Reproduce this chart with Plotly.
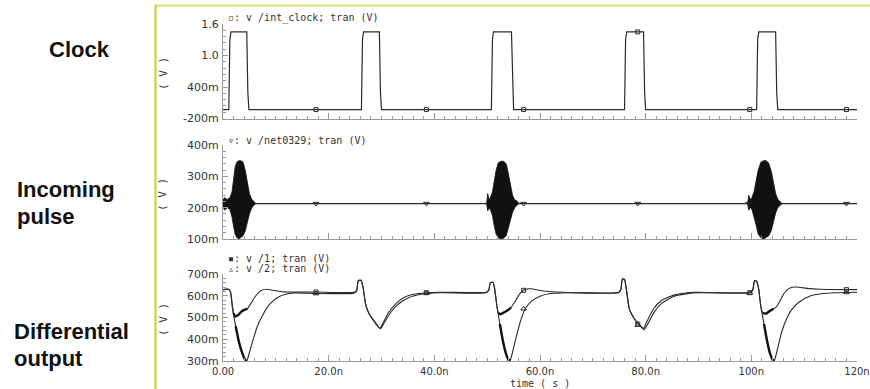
import plotly.graph_objects as go

W, H = 870, 389

# ---------------- data ----------------
# Clock (V) vs time (ns)
clock_t = [0, 1.1, 1.3, 1.5, 4.5, 4.7, 4.9,
           26.2, 26.4, 26.6, 29.6, 29.8, 30.0,
           50.8, 51.0, 51.2, 54.6, 54.8, 55.0,
           76.0, 76.2, 76.4, 79.6, 79.8, 80.0,
           101.0, 101.2, 101.4, 104.6, 104.8, 105.0, 120]
clock_v = [-0.03, -0.03, 1.30, 1.45, 1.45, 0.30, -0.03,
           -0.03, 1.30, 1.45, 1.45, 0.30, -0.03,
           -0.03, 1.30, 1.45, 1.45, 0.30, -0.03,
           -0.03, 1.30, 1.45, 1.45, 0.30, -0.03,
           -0.03, 1.30, 1.45, 1.45, 0.30, -0.03, -0.03]
clock_mk_t = [17.6, 38.5, 56.9, 78.5, 99.7, 118.0]
clock_mk_v = [-0.03, -0.03, -0.03, 1.45, -0.03, -0.03]

# Incoming pulse: baseline and burst envelopes (V)
pulse_t = [0, 120]
pulse_v = [0.213, 0.213]
burst1_t = [0.0, 0.3, 0.8, 1.3, 1.7, 2.0, 2.3, 2.6, 3.0, 3.4, 3.8, 4.2, 4.6, 5.0, 5.4, 5.8, 6.2]
burst1_hi = [0.225, 0.232, 0.226, 0.232, 0.25, 0.29, 0.33, 0.345, 0.35, 0.35, 0.345, 0.32, 0.28, 0.245, 0.228, 0.22, 0.213]
burst1_lo = [0.203, 0.192, 0.200, 0.195, 0.17, 0.14, 0.115, 0.105, 0.10, 0.105, 0.11, 0.125, 0.15, 0.18, 0.198, 0.207, 0.213]
burst2_t = [49.9, 50.1, 50.3, 50.6, 51.0, 51.3, 51.7, 52.1, 52.6, 53.1, 53.6, 54.0, 54.4, 54.8, 55.2, 55.6, 56.0]
burst2_hi = [0.213, 0.245, 0.228, 0.232, 0.25, 0.28, 0.32, 0.343, 0.348, 0.348, 0.34, 0.31, 0.27, 0.24, 0.225, 0.222, 0.213]
burst2_lo = [0.213, 0.19, 0.198, 0.195, 0.175, 0.145, 0.115, 0.104, 0.10, 0.102, 0.11, 0.13, 0.16, 0.185, 0.2, 0.205, 0.213]
burst3_t = [99.3, 99.5, 99.8, 100.1, 100.5, 100.9, 101.3, 101.8, 102.3, 102.8, 103.3, 103.8, 104.2, 104.6, 105.0, 105.4, 105.8]
burst3_hi = [0.213, 0.24, 0.226, 0.232, 0.25, 0.28, 0.32, 0.345, 0.35, 0.35, 0.342, 0.315, 0.28, 0.245, 0.227, 0.22, 0.213]
burst3_lo = [0.213, 0.192, 0.2, 0.195, 0.175, 0.145, 0.115, 0.104, 0.10, 0.104, 0.11, 0.128, 0.155, 0.183, 0.2, 0.206, 0.213]
pulse_mk_t = [17.6, 38.5, 56.9, 78.5, 99.5, 118.0]
pulse_mk_v = [0.213, 0.213, 0.213, 0.213, 0.213, 0.213]

# Differential output (V)
outA_t = [0, 1.0, 1.4, 1.7, 2.0, 2.3, 2.8, 3.4, 4.0, 4.6, 5.3, 6.2, 7.2, 8.3, 9.5, 11.5, 17.6, 24.8,
          25.3, 25.6, 26.1, 26.5, 27.0, 27.6, 28.4, 29.2, 29.7, 30.4, 31.4, 32.8, 34.5, 37, 41, 49.8,
          50.3, 50.6, 51.1, 51.4, 51.8, 52.1, 52.6, 53.3, 54.0, 54.5, 55.3, 56.2, 57.2, 58.3, 60, 63, 74.9,
          75.3, 75.6, 76.0, 76.4, 76.9, 77.6, 78.5, 79.2, 79.6, 80.3, 81.5, 83, 85.3, 89, 99.8,
          100.3, 100.6, 101.0, 101.4, 101.8, 102.2, 102.8, 103.5, 104.2, 104.7, 105.5, 106.3, 107.2, 108.5, 110.5, 113, 120]
outA_v = [0.628, 0.63, 0.62, 0.57, 0.52, 0.505, 0.51, 0.525, 0.535, 0.54, 0.565, 0.60, 0.624, 0.63, 0.625, 0.618, 0.617, 0.616,
          0.625, 0.67, 0.672, 0.64, 0.56, 0.52, 0.49, 0.465, 0.45, 0.48, 0.525, 0.565, 0.595, 0.61, 0.616, 0.616,
          0.625, 0.66, 0.662, 0.635, 0.56, 0.52, 0.515, 0.525, 0.535, 0.545, 0.575, 0.61, 0.63, 0.632, 0.624, 0.617, 0.616,
          0.63, 0.678, 0.676, 0.62, 0.54, 0.505, 0.475, 0.458, 0.45, 0.485, 0.54, 0.578, 0.603, 0.616, 0.616,
          0.63, 0.67, 0.668, 0.63, 0.55, 0.52, 0.518, 0.53, 0.54, 0.548, 0.58, 0.615, 0.635, 0.64, 0.634, 0.63, 0.628]
outB_t = [0, 1.0, 1.4, 1.8, 2.4, 3.0, 3.6, 4.2, 4.5, 4.9, 5.6, 6.5, 7.6, 8.8, 10.2, 11.8, 13.5, 17.6, 24.8,
          25.3, 25.6, 26.1, 26.5, 27.0, 27.6, 28.4, 29.2, 29.8, 30.5, 31.5, 33, 35, 37.5, 41, 49.8,
          50.3, 50.6, 51.1, 51.4, 51.8, 52.4, 53.0, 53.6, 54.1, 54.4, 54.9, 55.6, 56.4, 57.2, 58.4, 60, 62, 65, 74.9,
          75.3, 75.6, 76.0, 76.4, 76.9, 77.6, 78.5, 79.2, 79.7, 80.4, 81.5, 83, 85.3, 89, 99.8,
          100.3, 100.6, 101.0, 101.4, 101.8, 102.4, 103.0, 103.6, 104.1, 104.4, 104.9, 105.7, 106.6, 107.6, 109, 111, 113.5, 116, 120]
outB_v = [0.628, 0.63, 0.62, 0.54, 0.46, 0.39, 0.34, 0.305, 0.30, 0.33, 0.39, 0.46, 0.515, 0.56, 0.59, 0.607, 0.613, 0.611, 0.612,
          0.622, 0.668, 0.67, 0.64, 0.56, 0.52, 0.49, 0.462, 0.448, 0.475, 0.515, 0.558, 0.59, 0.607, 0.614, 0.614,
          0.625, 0.66, 0.662, 0.635, 0.56, 0.47, 0.39, 0.33, 0.302, 0.305, 0.35, 0.42, 0.49, 0.54, 0.575, 0.598, 0.61, 0.614, 0.614,
          0.628, 0.676, 0.674, 0.62, 0.54, 0.503, 0.472, 0.455, 0.444, 0.47, 0.52, 0.565, 0.597, 0.613, 0.614,
          0.628, 0.668, 0.666, 0.63, 0.55, 0.47, 0.39, 0.33, 0.302, 0.305, 0.35, 0.43, 0.49, 0.535, 0.57, 0.598, 0.61, 0.614, 0.616]
noise_windows = [(2.0, 4.6), (52.0, 54.6), (102.0, 104.6)]
outA_mk_t = [17.6, 38.5, 56.9, 78.5, 99.7, 118.0]
outA_mk_v = [0.617, 0.614, 0.625, 0.47, 0.614, 0.628]
outB_mk_t = [17.6, 38.5, 56.9, 78.5, 99.7, 118.0]
outB_mk_v = [0.61, 0.612, 0.54, 0.465, 0.612, 0.615]

x_tickvals = [0, 20, 40, 60, 80, 100, 120]
x_ticktext = ["0.00", "20.0n", "40.0n", "60.0n", "80.0n", "100n", "120n"]
y1_tickvals = [-0.2, 0.4, 1.0, 1.6]
y1_ticktext = ["-200m", "400m", "1.0", "1.6"]
y2_tickvals = [0.1, 0.2, 0.3, 0.4]
y2_ticktext = ["100m", "200m", "300m", "400m"]
y3_tickvals = [0.3, 0.4, 0.5, 0.6, 0.7]
y3_ticktext = ["300m", "400m", "500m", "600m", "700m"]

# ---------------- figure ----------------
LINE = "#2a2a2a"
AX = "#9a9a9a"
TXT = "#333333"

def px_x(p):
    return p / W

def px_y(p):
    return 1 - p / H

fig = go.Figure()

# clock
fig.add_trace(go.Scatter(x=clock_t, y=clock_v, mode="lines", line=dict(color=LINE, width=1.2),
                         xaxis="x2", yaxis="y", hoverinfo="skip"))
fig.add_trace(go.Scatter(x=clock_mk_t, y=clock_mk_v, mode="markers",
                         marker=dict(symbol="square-open", size=4, color=LINE, line=dict(width=1)),
                         xaxis="x2", yaxis="y", hoverinfo="skip"))

# incoming pulse
fig.add_trace(go.Scatter(x=pulse_t, y=pulse_v, mode="lines", line=dict(color=LINE, width=1.2),
                         xaxis="x3", yaxis="y2", hoverinfo="skip"))
for bt, bh, bl in [(burst1_t, burst1_hi, burst1_lo), (burst2_t, burst2_hi, burst2_lo), (burst3_t, burst3_hi, burst3_lo)]:
    fig.add_trace(go.Scatter(x=bt + bt[::-1], y=bh + bl[::-1], mode="lines", fill="toself",
                             fillcolor="#111111", line=dict(color="#111111", width=0.8),
                             xaxis="x3", yaxis="y2", hoverinfo="skip"))
fig.add_trace(go.Scatter(x=pulse_mk_t, y=pulse_mk_v, mode="markers",
                         marker=dict(symbol="triangle-down-open", size=5, color=LINE, line=dict(width=1)),
                         xaxis="x3", yaxis="y2", hoverinfo="skip"))

# differential output
for tt, vv in [(outA_t, outA_v), (outB_t, outB_v)]:
    fig.add_trace(go.Scatter(x=tt, y=vv, mode="lines", line=dict(color=LINE, width=1.1, shape="spline", smoothing=0.5),
                             xaxis="x", yaxis="y3", hoverinfo="skip"))
    for (a, b) in noise_windows:
        sx = [t for t in tt if a <= t <= b]
        sy = [v for t, v in zip(tt, vv) if a <= t <= b]
        fig.add_trace(go.Scatter(x=sx, y=sy, mode="lines", line=dict(color="#111111", width=2.4, shape="spline", smoothing=0.5),
                                 xaxis="x", yaxis="y3", hoverinfo="skip"))
fig.add_trace(go.Scatter(x=outA_mk_t, y=outA_mk_v, mode="markers",
                         marker=dict(symbol="square-open", size=4, color=LINE, line=dict(width=1)),
                         xaxis="x", yaxis="y3", hoverinfo="skip"))
fig.add_trace(go.Scatter(x=outB_mk_t, y=outB_mk_v, mode="markers",
                         marker=dict(symbol="triangle-up-open", size=5, color=LINE, line=dict(width=1)),
                         xaxis="x", yaxis="y3", hoverinfo="skip"))

tickfont = dict(family="DejaVu Sans", size=11, color=TXT)
xtickfont = dict(family="DejaVu Sans", size=10, color=TXT)
xdom = [px_x(223), px_x(857)]

xcommon = dict(range=[0, 120], domain=xdom, showline=True, linecolor=AX, linewidth=1,
               ticks="inside", ticklen=6, tickcolor=AX, tickwidth=1, automargin=False,
               tickvals=x_tickvals, showgrid=False, zeroline=False,
               minor=dict(dtick=2, tick0=0, ticks="inside", ticklen=3, tickcolor=AX, showgrid=False))

ycommon = dict(showline=True, linecolor=AX, linewidth=1, ticks="inside", ticklen=5, automargin=False,
               tickcolor=AX, tickwidth=1, showgrid=False, zeroline=False, tickfont=tickfont,
               ticklabelstandoff=1)

fig.update_layout(
    width=W, height=H, margin=dict(l=0, r=0, t=0, b=0, autoexpand=False),
    paper_bgcolor="white", plot_bgcolor="white", showlegend=False,
    xaxis=dict(**xcommon, anchor="y3", ticktext=x_ticktext, tickfont=xtickfont, ticklabelstandoff=1,
               ticklabeloverflow="allow"),
    xaxis2=dict(**xcommon, anchor="y", matches="x", showticklabels=False),
    xaxis3=dict(**xcommon, anchor="y2", matches="x", showticklabels=False),
    yaxis=dict(**ycommon, domain=[px_y(118.5), px_y(24)], range=[-0.2, 1.6], anchor="x2",
               tickvals=y1_tickvals, ticktext=y1_ticktext,
               minor=dict(dtick=0.12, tick0=-0.2, ticks="inside", ticklen=3, tickcolor=AX, showgrid=False)),
    yaxis2=dict(**ycommon, domain=[px_y(239), px_y(145)], range=[0.1, 0.4], anchor="x3",
                tickvals=y2_tickvals, ticktext=y2_ticktext,
                minor=dict(dtick=0.02, tick0=0.1, ticks="inside", ticklen=3, tickcolor=AX, showgrid=False)),
    yaxis3=dict(**ycommon, domain=[px_y(361), px_y(274)], range=[0.3, 0.7], anchor="x",
                tickvals=y3_tickvals, ticktext=y3_ticktext,
                minor=dict(dtick=0.02, tick0=0.3, ticks="inside", ticklen=3, tickcolor=AX, showgrid=False)),
)

mono = dict(family="DejaVu Sans Mono", size=10, color=TXT)
mono11 = dict(family="DejaVu Sans Mono", size=11, color=TXT)
ann = []
def note(text, x, y, font, xanchor="left", angle=0):
    ann.append(dict(text=text, x=px_x(x), y=px_y(y), xref="paper", yref="paper",
                    xanchor=xanchor, yanchor="middle", showarrow=False, font=font, textangle=angle))

note("▫: v /int_clock; tran (V)", 226, 18, mono)
note("▿: v /net0329; tran (V)", 226, 140, mono)
note("▪: v /1; tran (V)", 226, 258, mono)
note("▵: v /2; tran (V)", 226, 268, mono)
note("( V )", 163, 74, mono11, xanchor="center", angle=-90)
note("( V )", 163, 195, mono11, xanchor="center", angle=-90)
note("( V )", 163, 320, mono11, xanchor="center", angle=-90)
note("time ( s )", 540, 383, mono, xanchor="center")

big = dict(family="Liberation Sans", size=22, color="#111111", weight="bold")
note("<b>Clock</b>", 79, 50, big, xanchor="center")
note("<b>Incoming</b>", 15, 190, big)
note("<b>pulse</b>", 15, 217, big)
note("<b>Differential</b>", 12, 331, big)
note("<b>output</b>", 12, 358, big)

fig.update_layout(annotations=ann)

fig.update_layout(shapes=[
    dict(type="line", xref="paper", yref="paper", x0=px_x(155), x1=1, y0=px_y(5.5), y1=px_y(5.5),
         line=dict(color="#d6e878", width=2)),
    dict(type="line", xref="paper", yref="paper", x0=px_x(155.5), x1=px_x(155.5), y0=0, y1=px_y(4.5),
         line=dict(color="#b2da2a", width=2)),
])

fig.write_html("out.html", config={"displayModeBar": False},
               post_script="document.body.style.margin='0';document.body.style.padding='0';document.body.style.overflow='hidden';")
